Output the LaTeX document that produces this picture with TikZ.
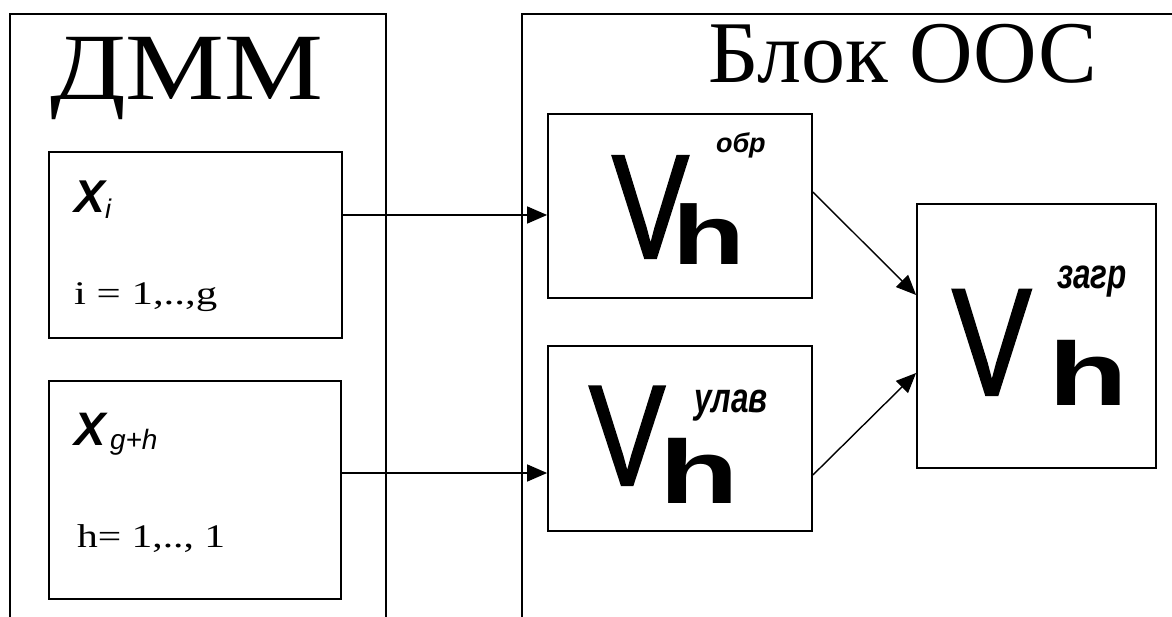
\documentclass[tikz,border=0pt]{standalone}
\usepackage{fontspec}
\usepackage{graphicx}
\setmainfont{Liberation Serif}
\setsansfont{Liberation Sans}
\newfontfamily\vfont[FakeBold=1.6]{Liberation Sans}
\usetikzlibrary{arrows.meta}
\tikzset{
  blk/.style={draw, line width=1.8pt, rectangle, inner sep=0pt},
  frame/.style={draw, line width=1.8pt},
  arr/.style={line width=1.4pt, -{Triangle[length=20pt,width=17pt]}},
  txt/.style={anchor=base west, inner sep=0pt, outer sep=0pt},
}
\newcommand{\vhsym}[6]{% V size, V xscale, kern, h size, h drop
  {\vfont\fontsize{#1}{#1}\selectfont\scalebox{#2}[1]{V}}\kern#3pt%
  \raisebox{-#5pt}{\sffamily\bfseries\fontsize{#4}{#4}\selectfont\scalebox{#6}[1]{h}}}
\begin{document}
\begin{tikzpicture}[x=1pt,y=-1pt]
\useasboundingbox (0,0) rectangle (1172,617);
\fill[white] (0,0) rectangle (1172,617);
% outer frames
\draw[frame] (10,640) -- (10,14) -- (386,14) -- (386,640);
\draw[frame] (522,640) -- (522,14) -- (1190,14);
% titles
\node[txt, font=\fontsize{95}{95}\selectfont] (dmm) at (50,100) {\scalebox{1.17}[1]{ДММ}};
\node[txt, font=\fontsize{88}{88}\selectfont] (blok) at (708,83) {Блок ООС};
% left boxes
\node[blk, minimum width=293pt, minimum height=186pt] (xi) at (195.5,245) {};
\node[blk, minimum width=292pt, minimum height=218pt] (xg) at (195,490) {};
\node[txt, font=\sffamily\bfseries\itshape\fontsize{46}{46}\selectfont] (xiX) at (74,213) {X};
\node[txt, font=\sffamily\itshape\fontsize{27}{27}\selectfont] (xiI) at (105,219) {i};
\node[txt, font=\fontsize{33}{33}\selectfont] (xiR) at (74,305) {\scalebox{1.3}[1]{i = 1,..,g}};
\node[txt, font=\sffamily\bfseries\itshape\fontsize{47}{47}\selectfont] (xgX) at (74,445) {X};
\node[txt, font=\sffamily\itshape\fontsize{28}{28}\selectfont] (xgI) at (110,449) {g+h};
\node[txt, font=\fontsize{33}{33}\selectfont] (xgR) at (77,547) {\scalebox{1.26}[1]{h= 1,.., 1}};
% right boxes
\node[blk, minimum width=264pt, minimum height=184pt] (vobr) at (680,206) {};
\node[blk, minimum width=264pt, minimum height=185pt] (vulav) at (680,438.5) {};
\node[blk, minimum width=239pt, minimum height=264pt] (vzagr) at (1036.5,336) {};
% V_h labels
\node[txt] (obrV) at (612,258) {\vhsym{148}{0.78}{-17}{84}{7}{1.42}};
\node[txt, font=\sffamily\bfseries\itshape\fontsize{27}{27}\selectfont] (obrS) at (716,153) {обр};
\node[txt] (ulavV) at (589,485) {\vhsym{143}{0.8}{-6.3}{90}{18}{1.45}};
\node[txt, font=\sffamily\bfseries\itshape\fontsize{42}{42}\selectfont] (ulavS) at (694,412) {\scalebox{0.75}[1]{улав}};
\node[txt] (zagrV) at (952,395) {\vhsym{153}{0.78}{16.4}{90}{10}{1.45}};
\node[txt, font=\sffamily\bfseries\itshape\fontsize{42}{42}\selectfont] (zagrS) at (1057,289) {\scalebox{0.75}[1]{загр}};
% connectors
\coordinate (a1) at ([yshift=30pt]xi.east);
\coordinate (a2) at ([yshift=17pt]xg.east);
\draw[arr] (a1) -- (a1 -| vobr.west);
\draw[arr] (a2) -- (a2 -| vulav.west);
\draw[arr] ([yshift=14pt]vobr.east) -- ([yshift=41pt]vzagr.west);
\draw[arr] ([yshift=-36.5pt]vulav.east) -- ([yshift=-37pt]vzagr.west);
\end{tikzpicture}
\end{document}
